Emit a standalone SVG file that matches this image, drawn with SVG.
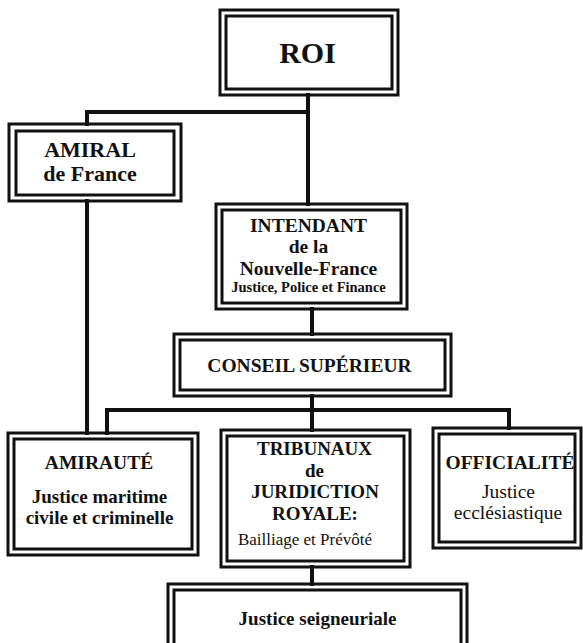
<svg xmlns="http://www.w3.org/2000/svg" width="583" height="643" viewBox="0 0 583 643">
<style>
.frame{fill:none;stroke:#111;stroke-width:3}
.conn{fill:none;stroke:#111;stroke-width:4;stroke-linecap:square}
text{font-family:"Liberation Serif","Times New Roman",serif;fill:#111;text-anchor:middle}
.b{font-weight:bold}
</style>
<rect width="583" height="643" fill="#fff"/>
<g id="connectors">
<path class="conn" d="M308 95V204"/>
<path class="conn" d="M87 112H308"/>
<path class="conn" d="M87 112V124"/>
<path class="conn" d="M87 201V433"/>
<path class="conn" d="M312 309V334"/>
<path class="conn" d="M312 396V430"/>
<path class="conn" d="M107 410H509"/>
<path class="conn" d="M107 410V433"/>
<path class="conn" d="M509 410V428"/>
<path class="conn" d="M312 567V584"/>
</g>
<g id="roi">
<rect class="frame" x="220" y="10" width="178" height="85" fill="#fff"/>
<rect class="frame" x="226" y="16" width="166" height="73"/>
<text class="b" x="307.5" y="63" font-size="30">ROI</text>
</g>
<g id="amiral">
<rect class="frame" x="9" y="124" width="172" height="77" fill="#fff"/>
<rect class="frame" x="16" y="131" width="158" height="64"/>
<text class="b" x="90" y="157" font-size="22">AMIRAL</text>
<text class="b" x="90" y="181" font-size="22">de France</text>
</g>
<g id="intendant">
<rect class="frame" x="216" y="204" width="191" height="105" fill="#fff"/>
<rect class="frame" x="222" y="210" width="179" height="93"/>
<text class="b" x="308.5" y="232" font-size="19.5">INTENDANT</text>
<text class="b" x="308.5" y="253" font-size="19.5">de la</text>
<text class="b" x="308.5" y="275" font-size="19.5">Nouvelle-France</text>
<text class="b" x="308.5" y="292" font-size="14.5">Justice, Police et Finance</text>
</g>
<g id="conseil">
<rect class="frame" x="174" y="334" width="277" height="62" fill="#fff"/>
<rect class="frame" x="180" y="340" width="265" height="50"/>
<text class="b" x="309.5" y="372" font-size="19.5">CONSEIL SUPÉRIEUR</text>
</g>
<g id="amiraute">
<rect class="frame" x="8" y="433" width="190" height="122" fill="#fff"/>
<rect class="frame" x="14" y="439" width="178" height="110"/>
<text class="b" x="99" y="469" font-size="19.5">AMIRAUTÉ</text>
<text class="b" x="99.5" y="503" font-size="19">Justice maritime</text>
<text class="b" x="99.5" y="524" font-size="19">civile et criminelle</text>
</g>
<g id="tribunaux">
<rect class="frame" x="221" y="430" width="189" height="137" fill="#fff"/>
<rect class="frame" x="227" y="436" width="177" height="125"/>
<text class="b" x="314.5" y="455" font-size="19">TRIBUNAUX</text>
<text class="b" x="314.5" y="477" font-size="19">de</text>
<text class="b" x="315" y="498" font-size="19">JURIDICTION</text>
<text class="b" x="315" y="520" font-size="19">ROYALE:</text>
<text x="305" y="545" font-size="17">Bailliage et Prévôté</text>
</g>
<g id="officialite">
<rect class="frame" x="433" y="428" width="148" height="120" fill="#fff"/>
<rect class="frame" x="439" y="434" width="136" height="108"/>
<text class="b" x="510" y="469" font-size="19.5">OFFICIALITÉ</text>
<text x="508.5" y="498" font-size="19.5">Justice</text>
<text x="508" y="519" font-size="19.5">ecclésiastique</text>
</g>
<g id="seigneuriale">
<rect class="frame" x="168" y="584" width="299" height="70" fill="#fff"/>
<rect class="frame" x="174" y="590" width="287" height="60"/>
<text class="b" x="317.5" y="625" font-size="19">Justice seigneuriale</text>
</g>
</svg>
